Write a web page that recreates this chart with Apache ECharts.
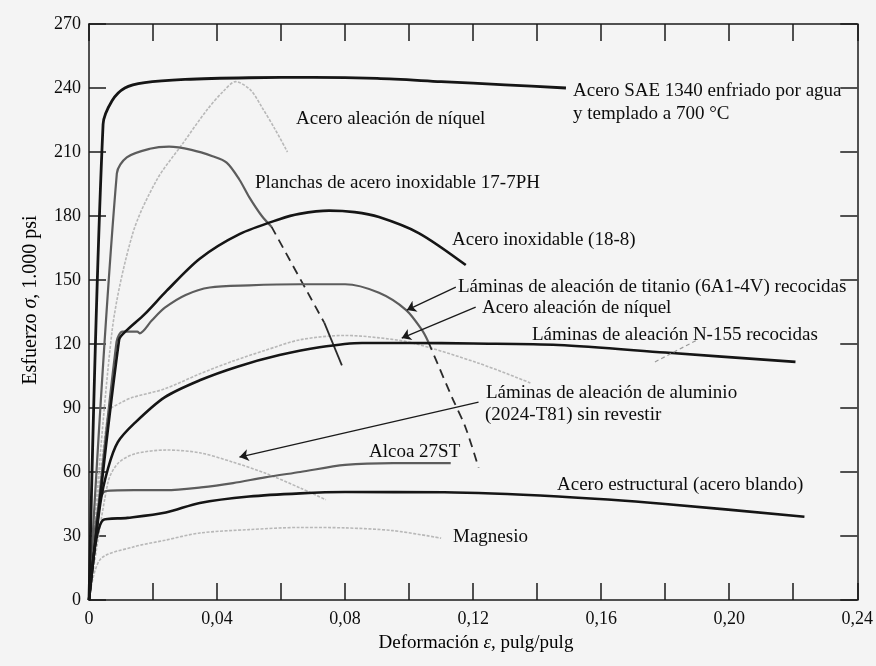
<!DOCTYPE html>
<html>
<head>
<meta charset="utf-8">
<script src="https://cdn.jsdelivr.net/npm/echarts@6/dist/echarts.min.js"></script>
<style>
  html, body { margin: 0; padding: 0; background: #f4f4f4; }
  #chart { width: 876px; height: 666px; }
</style>
</head>
<body>
<div id="chart"></div>
<script>
// curvas esfuerzo-deformación: [deformación, esfuerzo (1000 psi)]
const sae1340 = [[0, 0], [0.0044, 223], [0.0072, 234], [0.0112, 240], [0.0174, 242.5], [0.03, 244], [0.05, 244.8], [0.07, 245], [0.09, 244.5], [0.11, 243], [0.13, 241.5], [0.149, 240]]
const niquelAlto = [[0, 0], [0.0072, 126], [0.0137, 172], [0.0212, 197], [0.0293, 214], [0.037, 230], [0.042, 238.5], [0.0458, 243], [0.0505, 239], [0.054, 231], [0.058, 221], [0.062, 210]]
const ph177 = [[0, 0], [0.0087, 200], [0.0118, 207.5], [0.019, 211.5], [0.025, 212.5], [0.032, 211], [0.0386, 208], [0.043, 205], [0.047, 197], [0.05, 189], [0.054, 180], [0.057, 175]]
const ph177Roto = [[0.057, 175], [0.0735, 130]]
const ph177Final = [[0.0735, 130], [0.079, 110]]
const inox188 = [[0, 0], [0.0094, 122], [0.0115, 126], [0.0174, 134], [0.0243, 145], [0.0346, 160], [0.047, 171.5], [0.0595, 178.5], [0.0657, 181], [0.075, 182.5], [0.083, 181.8], [0.0906, 179.5], [0.103, 172], [0.1177, 157]]
const titanio = [[0, 0], [0.0086, 121], [0.0105, 125.8], [0.0151, 125.8], [0.0158, 125], [0.0196, 131], [0.0237, 137], [0.0302, 143], [0.0377, 146.5], [0.05, 147.5], [0.066, 148], [0.08, 148], [0.0906, 144], [0.099, 136], [0.104, 126.6], [0.106, 121]]
const titanioRoto = [[0.106, 121], [0.1134, 95], [0.1176, 81], [0.1217, 62]]
const n155 = [[0, 0], [0.006, 88], [0.01, 92.5], [0.0137, 95], [0.0237, 99], [0.0346, 106], [0.045, 112], [0.055, 117], [0.066, 122], [0.08, 124], [0.09, 123], [0.101, 120.5], [0.1217, 111], [0.138, 101.7]]
const niquel = [[0, 0], [0.0035, 45], [0.006, 62], [0.009, 74], [0.0143, 83], [0.0236, 95], [0.0346, 103], [0.0466, 109.5], [0.0595, 114.8], [0.072, 118.5], [0.0853, 120.5], [0.1, 120.5], [0.12, 120.2], [0.1466, 119.5], [0.18, 116], [0.2207, 111.6]]
const aluminio = [[0, 0], [0.0059, 55], [0.009, 64], [0.0143, 68.5], [0.0243, 70.3], [0.0346, 69], [0.0448, 64.7], [0.055, 59.5], [0.066, 52.5], [0.074, 47]]
const alcoa = [[0, 0], [0.005, 51], [0.014, 51.5], [0.024, 51.5], [0.035, 52.8], [0.045, 54.8], [0.055, 57.5], [0.066, 60], [0.08, 63.3], [0.095, 64.2], [0.113, 64.2]]
const estructural = [[0, 0], [0.0044, 37.5], [0.012, 38.5], [0.024, 41], [0.0346, 45.5], [0.05, 48.5], [0.066, 50], [0.08, 50.6], [0.111, 50.5], [0.1466, 48.5], [0.18, 45], [0.2235, 39]]
const magnesio = [[0, 0], [0.0035, 19], [0.0137, 24.8], [0.0237, 28], [0.0346, 31.4], [0.05, 33], [0.066, 34], [0.08, 33.8], [0.095, 32.5], [0.11, 29]]

// flechas de las etiquetas (en coordenadas de datos)
const flechas = [
  [[0.1146, 146.7], [0.0993, 135.9]],
  [[0.1208, 137.3], [0.0977, 122.8]],
  [[0.1217, 92.8], [0.047, 67]]
]
const guiaN155 = [[0.1768, 111.6], [0.19, 121.9]]

// textos: [texto, x, y]
const etiquetas = [
  ['Acero SAE 1340 enfriado por agua', 573, 91],
  ['y templado a 700 °C', 573, 114],
  ['Acero aleación de níquel', 296, 119],
  ['Planchas de acero inoxidable 17-7PH', 255, 183],
  ['Acero inoxidable (18-8)', 452, 240],
  ['Láminas de aleación de titanio (6A1-4V) recocidas', 458, 287],
  ['Acero aleación de níquel', 482, 308],
  ['Láminas de aleación N-155 recocidas', 532, 335],
  ['Láminas de aleación de aluminio', 486, 393],
  ['(2024-T81) sin revestir', 485, 415],
  ['Alcoa 27ST', 369, 452],
  ['Acero estructural (acero blando)', 557, 485],
  ['Magnesio', 453, 537]
]

const FONT = '"Liberation Serif", "DejaVu Serif", serif'
const TINTA = '#0d0d0d'
const NEGRO = '#151515'
const GRIS = '#5c5c5c'
const CLARO = '#b8b8b8'

document.addEventListener('DOMContentLoaded', function () {
  const myChart = echarts.init(document.getElementById('chart'), null, { renderer: 'canvas' })

  function curva(name, data, color, width, type) {
    return {
      name: name,
      type: 'line',
      data: data,
      showSymbol: false,
      symbol: 'none',
      smooth: 0.3,
      lineStyle: { color: color, width: width, type: type || 'solid' },
      z: color === CLARO ? 2 : 3,
      silent: true
    }
  }

  const textos = etiquetas.map(e => ({
    type: 'text',
    style: {
      text: e[0], x: e[1], y: e[2],
      font: '19px ' + FONT,
      fill: TINTA,
      verticalAlign: 'middle', textVerticalAlign: 'middle'
    },
    z: 10
  }))

  // títulos de los ejes
  textos.push({
    type: 'text',
    style: {
      text: '{a|Deformación }{b|ε}{a|, pulg/pulg}',
      x: 476, y: 643,
      align: 'center', textAlign: 'center',
      verticalAlign: 'middle', textVerticalAlign: 'middle',
      rich: {
        a: { fontSize: 19, fontFamily: FONT, color: TINTA },
        b: { fontSize: 19, fontFamily: FONT, fontStyle: 'italic', color: TINTA }
      }
    }
  })
  textos.push({
    type: 'text',
    x: 31, y: 300,
    rotation: Math.PI / 2,
    style: {
      text: '{a|Esfuerzo }{b|σ}{a|, 1.000 psi}',
      x: 0, y: 0,
      align: 'center', textAlign: 'center',
      verticalAlign: 'middle', textVerticalAlign: 'middle',
      rich: {
        a: { fontSize: 20, fontFamily: FONT, color: TINTA },
        b: { fontSize: 20, fontFamily: FONT, fontStyle: 'italic', color: TINTA }
      }
    }
  })

  const ejeLinea = { show: true, onZero: false, lineStyle: { color: '#1a1a1a', width: 1.5 } }
  const ejeTick = { show: true, inside: true, length: 17, lineStyle: { color: '#1a1a1a', width: 1.5 } }

  const option = {
    backgroundColor: '#f4f4f4',
    animation: false,
    grid: { left: 89, right: 16, top: 24, bottom: 66 },
    xAxis: [
      {
        type: 'value', position: 'bottom', min: 0, max: 0.24, interval: 0.02,
        axisLine: ejeLinea, axisTick: ejeTick, splitLine: { show: false },
        axisLabel: {
          margin: 10, fontSize: 18, fontFamily: FONT, color: TINTA,
          showMaxLabel: true, showMinLabel: true, hideOverlap: false,
          formatter: function (v) {
            const c = Math.round(v * 100)
            if (c % 4 !== 0) return ''
            if (c === 0) return '0'
            return (c / 100).toFixed(2).replace('.', ',')
          }
        }
      },
      {
        type: 'value', position: 'top', min: 0, max: 0.24, interval: 0.02,
        axisLine: ejeLinea, axisTick: ejeTick, splitLine: { show: false },
        axisLabel: { show: false }
      }
    ],
    yAxis: [
      {
        type: 'value', position: 'left', min: 0, max: 270, interval: 30,
        axisLine: ejeLinea, axisTick: ejeTick, splitLine: { show: false },
        axisLabel: { margin: 8, fontSize: 18, fontFamily: FONT, color: TINTA }
      },
      {
        type: 'value', position: 'right', min: 0, max: 270, interval: 30,
        axisLine: ejeLinea, axisTick: ejeTick, splitLine: { show: false },
        axisLabel: { show: false }
      }
    ],
    graphic: textos,
    series: [
      curva('Acero aleación de níquel (alto)', niquelAlto, CLARO, 1.6, [3, 1.5]),
      curva('N-155', n155, CLARO, 1.6, [3, 1.5]),
      curva('Aluminio 2024-T81', aluminio, CLARO, 1.6, [3, 1.5]),
      curva('Magnesio', magnesio, CLARO, 1.6, [3, 1.5]),
      curva('17-7PH', ph177, GRIS, 2.2),
      curva('17-7PH rotura', ph177Roto, '#2a2a2a', 1.8, [9, 6]),
      curva('17-7PH final', ph177Final, '#2a2a2a', 1.8),
      curva('Titanio 6A1-4V', titanio, GRIS, 2.2),
      curva('Titanio rotura', titanioRoto, '#2a2a2a', 1.8, [9, 6]),
      curva('Alcoa 27ST', alcoa, GRIS, 2.2),
      curva('SAE 1340', sae1340, NEGRO, 2.8),
      curva('Inoxidable 18-8', inox188, NEGRO, 2.6),
      curva('Acero aleación de níquel', niquel, NEGRO, 2.6),
      curva('Acero estructural', estructural, NEGRO, 2.6),
      {
        name: 'flechas',
        type: 'lines',
        coordinateSystem: 'cartesian2d',
        data: flechas.map(f => ({ coords: f })),
        symbol: ['none', 'arrow'],
        symbolSize: 9,
        lineStyle: { color: '#1a1a1a', width: 1.3, opacity: 1 },
        silent: true,
        z: 5
      },
      {
        name: 'guía N-155',
        type: 'lines',
        coordinateSystem: 'cartesian2d',
        data: [{ coords: guiaN155 }],
        symbol: ['none', 'none'],
        lineStyle: { color: '#999', width: 1.2, type: [4, 3], opacity: 1 },
        silent: true,
        z: 5
      }
    ]
  }

  myChart.setOption(option)
})
</script>
</body>
</html>
